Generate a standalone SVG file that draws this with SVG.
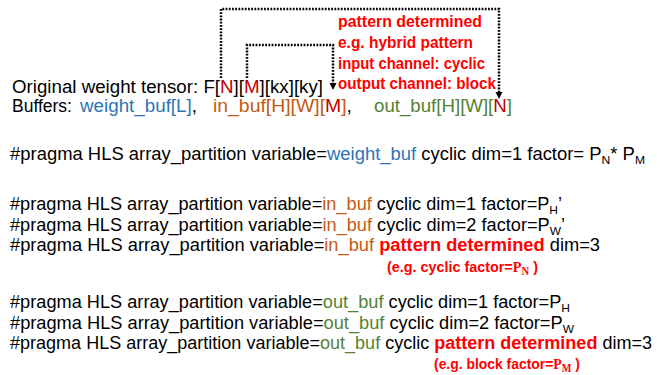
<svg xmlns="http://www.w3.org/2000/svg" width="660" height="375" viewBox="0 0 660 375">
<defs>
<style>
.t{font-family:"Liberation Sans",Arial,sans-serif;font-size:17.5px;fill:#000}
.rb{font-family:"Liberation Sans",Arial,sans-serif;font-size:16.5px;font-weight:bold;fill:#FF0000}
.eg{font-family:"Liberation Sans",Arial,sans-serif;font-size:15.5px;font-weight:bold;fill:#FF0000}
.ser{font-family:"Liberation Serif","Times New Roman",serif;font-weight:bold}
.bl{fill:#2E75B6}
.or{fill:#C55A11}
.gr{fill:#548235}
.dr{fill:#C00000}
.red{fill:#FF0000;font-weight:bold}
.sub{font-size:11.5px}
.dot{fill:none;stroke:#000;stroke-width:2.5;stroke-dasharray:1.8 1.4}
</style>
</defs>
<rect width="660" height="375" fill="#fff"/>

<g id="connectors">
<path class="dot" d="M221,78 V9 H499 V93"/>
<path d="M495.5,92 L502.5,92 L499,99 Z" fill="#000"/>
<path class="dot" d="M247,78 V45 H333 V84"/>
<path d="M329.5,83 L336.5,83 L333,90 Z" fill="#000"/>
</g>

<g id="note">
<text class="rb" x="338" y="27" textLength="144" lengthAdjust="spacingAndGlyphs">pattern determined</text>
<text class="rb" x="338" y="48" textLength="135" lengthAdjust="spacingAndGlyphs">e.g. hybrid pattern</text>
<text class="rb" x="338" y="69" textLength="147" lengthAdjust="spacingAndGlyphs">input channel: cyclic</text>
<text class="rb" x="338" y="89" textLength="158" lengthAdjust="spacingAndGlyphs">output channel: block</text>
</g>

<g id="tensor">
<text class="t" x="12" y="93" textLength="311" lengthAdjust="spacingAndGlyphs">Original weight tensor: F[<tspan class="dr">N</tspan>][<tspan class="dr">M</tspan>][kx][ky]</text>
</g>

<g id="buffers">
<text class="t" x="12" y="112">Buffers:</text>
<text class="t bl" x="80" y="112" textLength="117" lengthAdjust="spacingAndGlyphs">weight_buf[L]<tspan fill="#000">,</tspan></text>
<text class="t or" x="213" y="112" textLength="139" lengthAdjust="spacingAndGlyphs">in_buf[H][W][<tspan class="dr">M</tspan>]<tspan fill="#000">,</tspan></text>
<text class="t gr" x="374" y="112" textLength="138" lengthAdjust="spacingAndGlyphs">out_buf[H][W][<tspan class="dr">N</tspan>]</text>
</g>

<g id="pragma-weight">
<text class="t" x="10" y="160" textLength="635" lengthAdjust="spacingAndGlyphs">#pragma HLS array_partition variable=<tspan class="bl">weight_buf</tspan> cyclic dim=1 factor= P<tspan class="sub" dy="4">N</tspan><tspan dy="-4">* P</tspan><tspan class="sub" dy="4">M</tspan></text>
</g>

<g id="pragma-in">
<text class="t" x="10" y="210" textLength="552" lengthAdjust="spacingAndGlyphs">#pragma HLS array_partition variable=<tspan class="or">in_buf</tspan> cyclic dim=1 factor=P<tspan class="sub" dy="3.5">H</tspan><tspan dy="-3.5">’</tspan></text>
<text class="t" x="10" y="231" textLength="555" lengthAdjust="spacingAndGlyphs">#pragma HLS array_partition variable=<tspan class="or">in_buf</tspan> cyclic dim=2 factor=P<tspan class="sub" dy="3.5">W</tspan><tspan dy="-3.5">’</tspan></text>
<text class="t" x="10" y="251" textLength="590" lengthAdjust="spacingAndGlyphs">#pragma HLS array_partition variable=<tspan class="or">in_buf</tspan> <tspan class="red">pattern determined</tspan> dim=3</text>
<text class="eg" x="387" y="272" textLength="151" lengthAdjust="spacingAndGlyphs">(e.g. cyclic factor=<tspan class="ser">P</tspan><tspan class="ser sub" dy="3">N</tspan><tspan dy="-3"> )</tspan></text>
</g>

<g id="pragma-out">
<text class="t" x="10" y="308" textLength="560" lengthAdjust="spacingAndGlyphs">#pragma HLS array_partition variable=<tspan class="gr">out_buf</tspan> cyclic dim=1 factor=P<tspan class="sub" dy="3.5">H</tspan></text>
<text class="t" x="10" y="329" textLength="564" lengthAdjust="spacingAndGlyphs">#pragma HLS array_partition variable=<tspan class="gr">out_buf</tspan> cyclic dim=2 factor=P<tspan class="sub" dy="3.5">W</tspan></text>
<text class="t" x="10" y="349" textLength="642" lengthAdjust="spacingAndGlyphs">#pragma HLS array_partition variable=<tspan class="gr">out_buf</tspan> cyclic <tspan class="red">pattern determined</tspan> dim=3</text>
<text class="eg" x="434" y="369" textLength="146" lengthAdjust="spacingAndGlyphs">(e.g. block factor=<tspan class="ser">P</tspan><tspan class="ser sub" dy="3">M</tspan><tspan dy="-3"> )</tspan></text>
</g>
</svg>
